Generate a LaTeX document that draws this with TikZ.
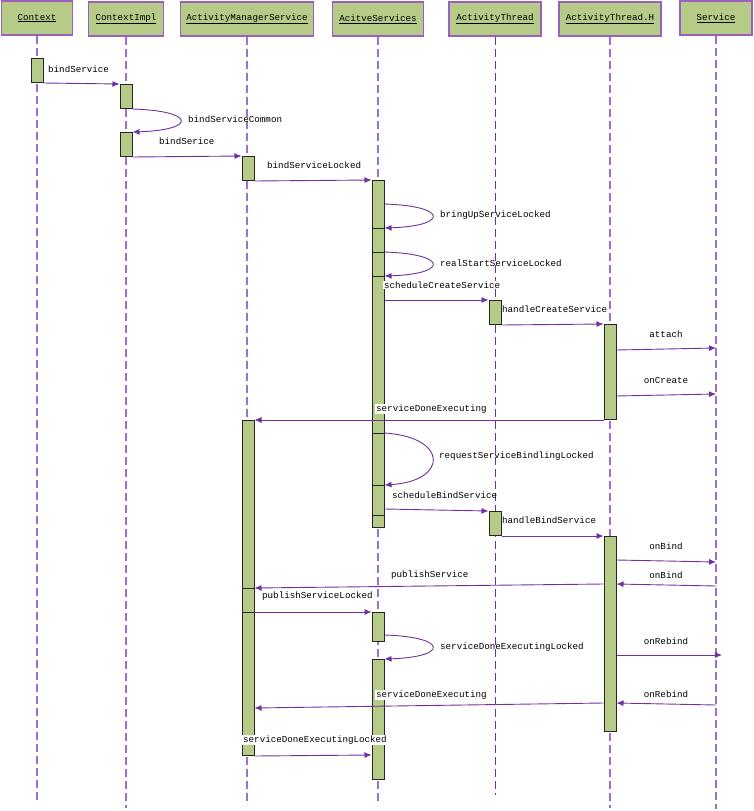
\documentclass[tikz,border=0pt]{standalone}
\usepackage{fontspec}
\setmonofont{Liberation Mono}
\usetikzlibrary{arrows.meta}
\definecolor{boxgreen}{RGB}{183,203,136}
\definecolor{headline}{RGB}{155,95,192}
\definecolor{lifepurple}{RGB}{160,110,210}
\definecolor{msgpurple}{RGB}{112,48,160}

\begin{document}
\begin{tikzpicture}[
  x=1pt, y=-1pt,
  every node/.style={font=\ttfamily\fontsize{9.2}{10}\selectfont},
  headbox/.style={draw=headline, fill=boxgreen, line width=1.5pt, minimum height=34pt, inner sep=1pt},
  actbox/.style={draw=black!85, fill=boxgreen, line width=1pt, minimum width=12pt, inner sep=0pt, anchor=north},
  actsplit/.style={draw=black!85, line width=1pt},
  life/.style={draw=lifepurple, line width=1.3pt, dash pattern=on 8pt off 4pt},
  msg/.style={draw=msgpurple, line width=0.9pt, -{Latex[length=7pt,width=6pt]}},
  msglabel/.style={inner sep=1pt, anchor=west},
  msgwhite/.style={msglabel, fill=white}
]
\useasboundingbox (0,0) rectangle (753,811);

\node[headbox, minimum width=71pt] (ctx) at (37,18) {\underline{Context}};
\node[headbox, minimum width=75pt] (impl) at (126,19) {\underline{ContextImpl}};
\node[headbox, minimum width=133pt] (ams) at (247,19) {\underline{ActivityManagerService}};
\node[headbox, minimum width=91pt] (as) at (378,19) {\underline{AcitveServices}};
\node[headbox, minimum width=92pt] (at) at (495,19) {\underline{ActivityThread}};
\node[headbox, minimum width=102pt] (ath) at (610,19) {\underline{ActivityThread.H}};
\node[headbox, minimum width=72pt] (svc) at (716,18) {\underline{Service}};

\coordinate (ctxend) at (37,800);
\coordinate (implend) at (126,808);
\coordinate (amsend) at (247,803);
\coordinate (asend) at (378,803);
\coordinate (atend) at (495,795);
\coordinate (athend) at (610,808);
\coordinate (svcend) at (716,809);
\draw[life] (ctx.south) -- (ctxend);
\draw[life] (impl.south) -- (implend);
\draw[life] (ams.south) -- (amsend);
\draw[life] (as.south) -- (asend);
\draw[life, draw=msgpurple, line width=1pt] (at.south) -- (atend);
\draw[life] (ath.south) -- (athend);
\draw[life] (svc.south) -- (svcend);

\node[actbox, minimum height=24pt] (ctxA) at (37,58) {};
\node[actbox, minimum height=24pt] (implA1) at (126,84) {};
\node[actbox, minimum height=24pt] (implA2) at (126,132) {};
\node[actbox, minimum height=24pt] (amsA1) at (248,156) {};
\node[actbox, minimum height=335pt] (amsA2) at (248,420) {};
\node[actbox, minimum height=347pt] (asA1) at (378,180) {};
\node[actbox, minimum height=29pt] (asA2) at (378,612) {};
\node[actbox, minimum height=120pt] (asA3) at (378,659) {};
\node[actbox, minimum height=24pt] (atA1) at (495,300) {};
\node[actbox, minimum height=24pt] (atA2) at (495,511) {};
\node[actbox, minimum height=95pt] (athA1) at (610,324) {};
\node[actbox, minimum height=195pt] (athA2) at (610,536) {};

\foreach \d in {48,72,96,253,305,335}
  \draw[actsplit] ([yshift=-\d pt]asA1.north west) -- ([yshift=-\d pt]asA1.north east);
\foreach \d in {168,192}
  \draw[actsplit] ([yshift=-\d pt]amsA2.north west) -- ([yshift=-\d pt]amsA2.north east);

\coordinate (sv1) at (716,348);
\coordinate (sv2) at (716,394);
\coordinate (sv3) at (716,562);
\coordinate (sv4) at (716,586);
\coordinate (sv5) at (722,655);
\coordinate (sv6) at (716,705);

\draw[msg] (ctxA.south east) -- (implA1.north west);
\draw[msg] (implA1.south east) .. controls +(64,2) and +(64,-2) .. (implA2.north east);
\draw[msg] (implA2.south east) -- (amsA1.north west);
\draw[msg] (amsA1.south east) -- (asA1.north west);
\draw[msg] ([yshift=-24pt]asA1.north east) .. controls +(64,2) and +(64,-2) .. ([yshift=-48pt]asA1.north east);
\draw[msg] ([yshift=-72pt]asA1.north east) .. controls +(64,2) and +(64,-2) .. ([yshift=-96pt]asA1.north east);
\draw[msg] ([yshift=-120pt]asA1.north east) -- (atA1.north west);
\draw[msg] (atA1.south east) -- (athA1.north west);
\draw[msg] ([yshift=-26pt]athA1.north east) -- (sv1);
\draw[msg] ([yshift=-72pt]athA1.north east) -- (sv2);
\draw[msg] (athA1.south west) -- (amsA2.north east);
\draw[msg] ([yshift=-253pt]asA1.north east) .. controls +(64,4) and +(64,-4) .. ([yshift=-305pt]asA1.north east);
\draw[msg] ([yshift=-329pt]asA1.north east) -- (atA2.north west);
\draw[msg] (atA2.south east) -- (athA2.north west);
\draw[msg] ([yshift=-24pt]athA2.north east) -- (sv3);
\draw[msg] (sv4) -- ([yshift=-48pt]athA2.north east);
\draw[msg] ([yshift=-48pt]athA2.north west) -- ([yshift=-168pt]amsA2.north east);
\draw[msg] ([yshift=-192pt]amsA2.north east) -- (asA2.north west);
\draw[msg] ([yshift=-23pt]asA2.north east) .. controls +(64,2) and +(64,-2) .. (asA3.north east);
\draw[msg] ([yshift=-119pt]athA2.north east) -- (sv5);
\draw[msg] ([yshift=-167pt]athA2.north west) -- ([yshift=-288pt]amsA2.north east);
\draw[msg] (sv6) -- ([yshift=-167pt]athA2.north east);
\draw[msg] (amsA2.south east) -- ([yshift=-96pt]asA3.north west);

\node[msglabel] (l1) at (47,69) {bindService};
\node[msglabel] (l2) at (187,119) {bindServiceCommon};
\node[msglabel] (l3) at (158,141) {bindSerice};
\node[msglabel] (l4) at (266,165) {bindServiceLocked};
\node[msglabel] (l5) at (439,215) {bringUpServiceLocked};
\node[msglabel] (l6) at (439,263) {realStartServiceLocked};
\node[msgwhite] (l7) at (383,285) {scheduleCreateService};
\node[msglabel] (l8) at (501,309) {handleCreateService};
\node (l9) at (666,334) {attach};
\node (l10) at (666,380) {onCreate};
\node[msgwhite] (l11) at (375,409) {serviceDoneExecuting};
\node[msglabel] (l12) at (438,456) {requestServiceBindlingLocked};
\node[msglabel] (l13) at (391,495) {scheduleBindService};
\node[msglabel] (l14) at (501,520) {handleBindService};
\node (l15) at (666,546) {onBind};
\node (l16) at (666,575) {onBind};
\node[msglabel] (l17) at (390,575) {publishService};
\node[msglabel] (l18) at (261,596) {publishServiceLocked};
\node[msglabel] (l19) at (439,647) {serviceDoneExecutingLocked};
\node (l20) at (666,641) {onRebind};
\node[msgwhite] (l21) at (375,695) {serviceDoneExecuting};
\node (l22) at (666,694) {onRebind};
\node[msgwhite] (l23) at (242,740) {serviceDoneExecutingLocked};
\end{tikzpicture}
\end{document}
